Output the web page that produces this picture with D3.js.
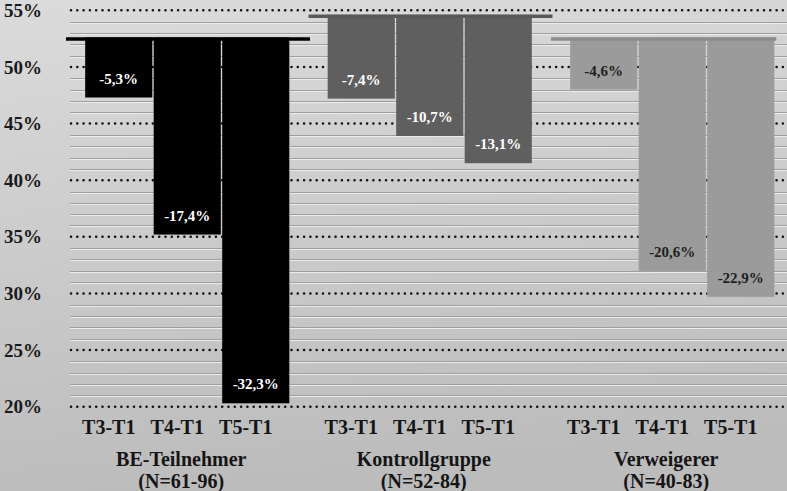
<!DOCTYPE html>
<html><head><meta charset="utf-8">
<script src="https://cdn.jsdelivr.net/npm/d3@7"></script>
<style>
html,body{margin:0;padding:0;background:#fff;}
svg{display:block;}
</style></head>
<body>
<svg id="chart" width="787" height="491"></svg>
<script>
// ---- data ----
const groups = ["BE-Teilnehmer", "Kontrollgruppe", "Verweigerer"];
const groupN = ["(N=61-96)", "(N=52-84)", "(N=40-83)"];
const periods = ["T3-T1", "T4-T1", "T5-T1"];
const startValues = [52.6, 54.6, 52.6];          // T1 level per group (%)
const changeBE = [-5.3, -17.4, -32.3];
const changeKG = [-7.4, -10.7, -13.1];
const changeVW = [-4.6, -20.6, -22.9];
const changes = [changeBE, changeKG, changeVW];
const yTicks = [20, 25, 30, 35, 40, 45, 50, 55];
const minorTicks = d3.range(20, 55.5, 1);

const fillColors = ["#000000", "#5f5f5f", "#9b9b9b"];
const lineColors = ["#000000", "#595959", "#8c8c8c"];
const labelColors = ["#ffffff", "#ffffff", "#1e1e1e"];

const FONT = "Liberation Serif";
const W = 787, H = 491;
const svg = d3.select("#chart");

// background gradient
const defs = svg.append("defs");
const grad = defs.append("linearGradient").attr("id", "bg").attr("x1", 0).attr("y1", 0).attr("x2", 0.15).attr("y2", 1);
grad.append("stop").attr("offset", "0%").attr("stop-color", "#dbdbdb");
grad.append("stop").attr("offset", "100%").attr("stop-color", "#bcbcbc");
svg.append("rect").attr("width", W).attr("height", H).attr("fill", "url(#bg)");

const y = d3.scaleLinear().domain([20, 55]).range([406.7, 10.3]);
const x0 = d3.scaleBand().domain(groups).range([66, 793.5]);
const x1 = d3.scaleBand().domain(periods).range([0, x0.bandwidth()]).paddingInner(0.02).paddingOuter(0.28);
const tickShift = -10, groupShift = -6;

const gridX0 = 70, gridX1 = W;

// minor grid
const minor = svg.append("g");
minorTicks.filter(v => v % 5 !== 0).forEach(v => {
  minor.append("line").attr("x1", gridX0).attr("x2", gridX1)
    .attr("y1", Math.round(y(v)) + 1.5).attr("y2", Math.round(y(v)) + 1.5)
    .attr("stroke", "#ececec").attr("stroke-width", 1);
  minor.append("line").attr("x1", gridX0).attr("x2", gridX1)
    .attr("y1", Math.round(y(v)) + 0.5).attr("y2", Math.round(y(v)) + 0.5)
    .attr("stroke", "#9e9e9e").attr("stroke-width", 1);
});
// major dotted grid
svg.append("g").selectAll("line").data(yTicks).join("line")
  .attr("x1", gridX0 + 1).attr("x2", gridX1)
  .attr("y1", d => y(d)).attr("y2", d => y(d))
  .attr("stroke", "#111").attr("stroke-width", 2.6)
  .attr("stroke-linecap", "round").attr("stroke-dasharray", "0,6.3");

// y axis labels
const yAxis = d3.axisLeft(y).tickValues(yTicks).tickFormat(d => d + "%").tickSize(0).tickPadding(0);
const ya = svg.append("g").attr("transform", "translate(42,0)").call(yAxis)
  .attr("font-family", FONT).attr("font-size", 19);
ya.select(".domain").remove();
ya.selectAll("text").attr("fill", "#1a1a1a").attr("font-weight", "bold");

const loc = d3.formatLocale({decimal: ",", thousands: ".", grouping: [3], currency: ["", "€"], minus: "-"});
const fmt = loc.format(".1f");

groups.forEach((g, gi) => {
  const gx = x0(g);
  const base = startValues[gi];
  const gg = svg.append("g").attr("transform", `translate(${gx},0)`);
  periods.forEach((p, pi) => {
    const ch = changes[gi][pi];
    const top = y(base), bot = y(base + ch);
    gg.append("rect").attr("x", x1(p)).attr("y", top)
      .attr("width", x1.bandwidth()).attr("height", bot - top)
      .attr("fill", fillColors[gi]);
    gg.append("text").attr("x", x1(p) + x1.bandwidth() / 2).attr("y", bot - 19)
      .attr("text-anchor", "middle").attr("dominant-baseline", "central")
      .attr("font-family", FONT).attr("font-weight", "bold")
      .attr("font-size", 15).attr("fill", labelColors[gi])
      .text(fmt(ch) + "%");
    svg.append("text").attr("x", gx + x1(p) + x1.bandwidth() / 2 + tickShift).attr("y", 427)
      .attr("text-anchor", "middle").attr("dominant-baseline", "central")
      .attr("font-family", FONT).attr("font-weight", "bold")
      .attr("font-size", 20).attr("fill", "#151515").text(p);
  });
  const lastEnd = x1(periods[periods.length - 1]) + x1.bandwidth();
  const xEnd = gi === groups.length - 1 ? lastEnd + 2 : x0.bandwidth() + 1.5;
  gg.append("line").attr("x1", 0).attr("x2", xEnd)
    .attr("y1", y(base) + 1.5).attr("y2", y(base) + 1.5)
    .attr("stroke", lineColors[gi]).attr("stroke-width", 3.5);
  const cx = gx + x0.bandwidth() / 2 + groupShift;
  svg.append("text").attr("x", cx).attr("y", 459).attr("text-anchor", "middle")
    .attr("dominant-baseline", "central").attr("font-family", FONT).attr("font-weight", "bold")
    .attr("font-size", 20).attr("fill", "#151515").text(g);
  svg.append("text").attr("x", cx).attr("y", 481).attr("text-anchor", "middle")
    .attr("dominant-baseline", "central").attr("font-family", FONT).attr("font-weight", "bold")
    .attr("font-size", 20).attr("fill", "#151515").text(groupN[gi]);
});
</script>
</body></html>
